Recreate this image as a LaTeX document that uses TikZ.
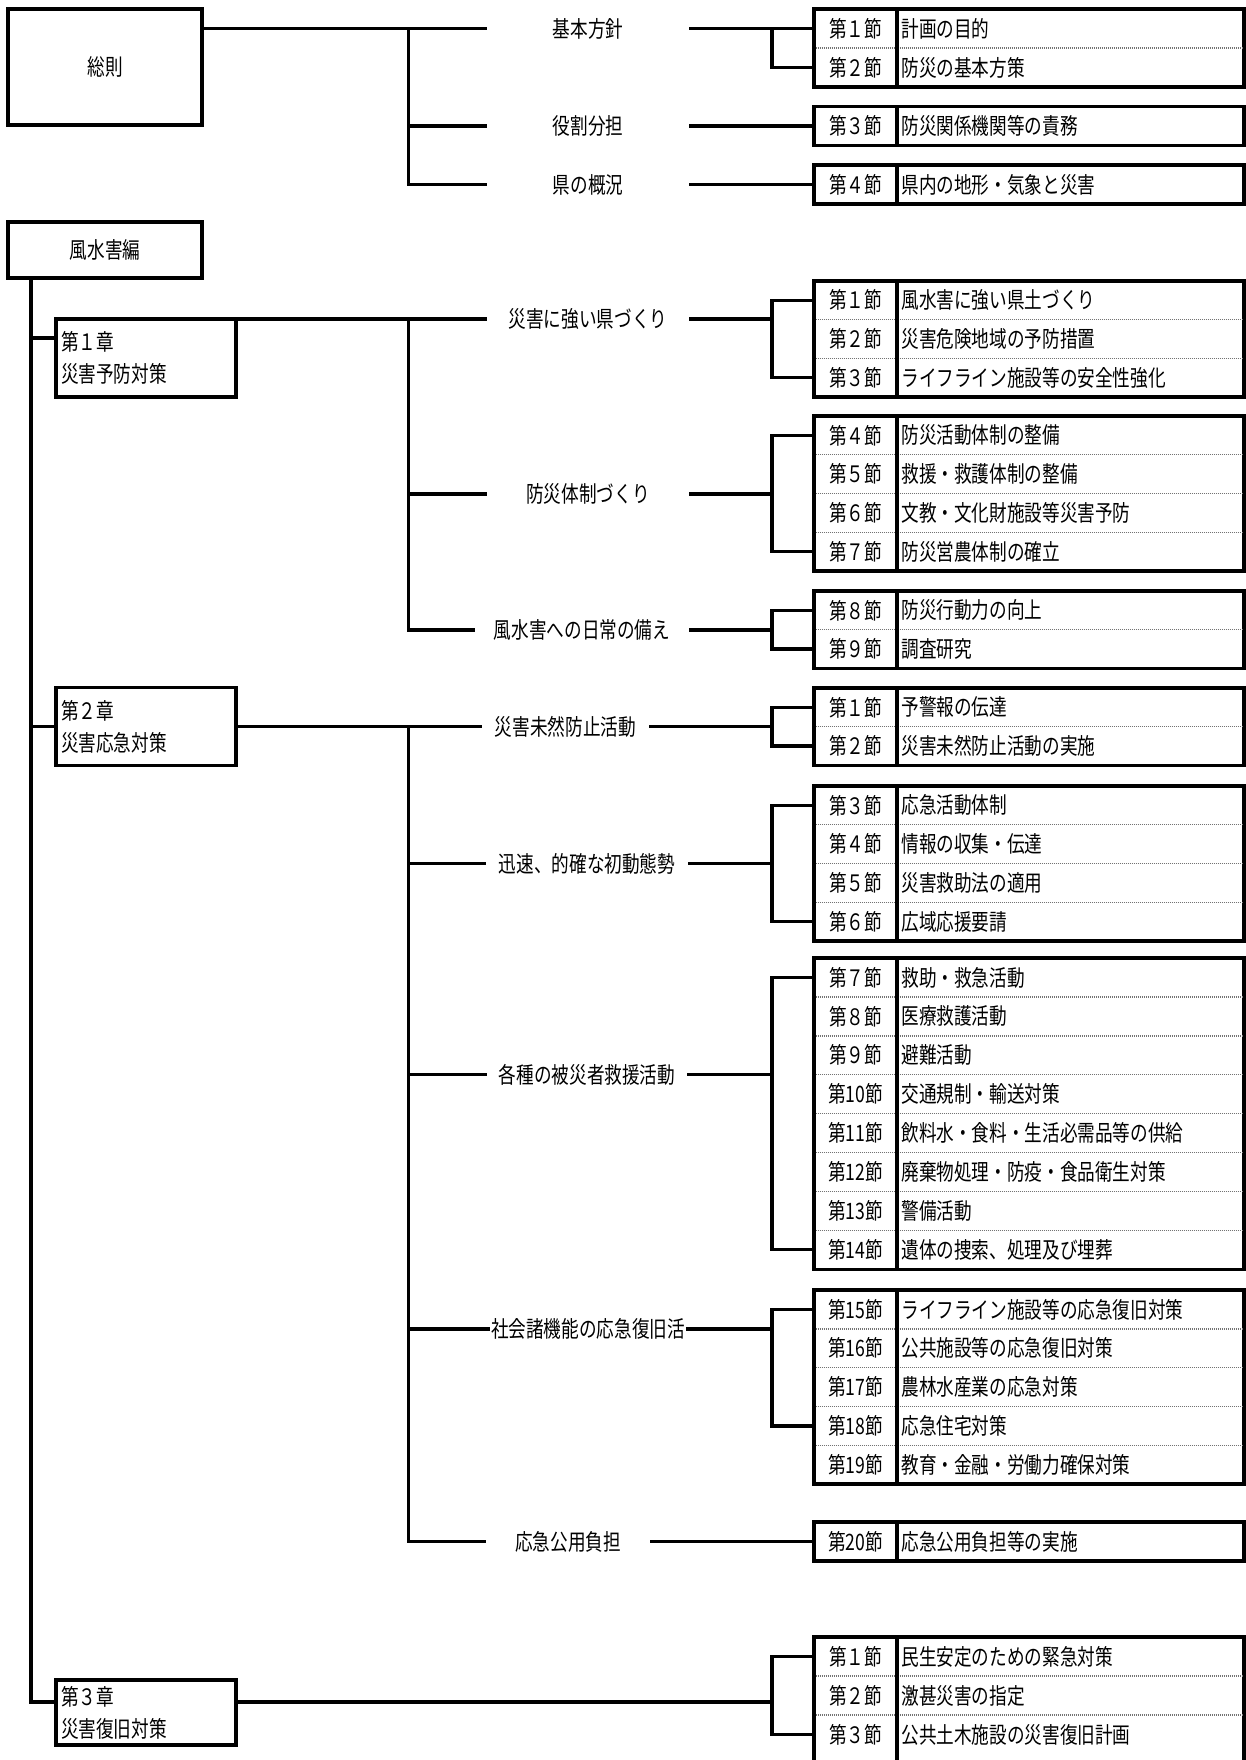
\documentclass[tikz,border=0pt]{standalone}
\usepackage{fontspec}
\setmainfont{Noto Sans CJK JP}[FakeStretch=0.78]
\newcommand{\SecGroup}[6]{%
  \draw[bx] (814,#2) rectangle (1244,#5);
  \foreach \SNum/\STit [count=\i] in {#6} {
    \node[numcell] (#1-\i) at (855.5,{#2+(\i-0.5)*#3}) {\SNum};
    \node[ttl] at (901,{#2+(\i-0.5)*#3}) {\STit};
  }
  \ifnum#4>1
    \foreach \k in {2,...,#4} \draw[dv] (815.5,{#2+(\k-1)*#3}) -- (1242.5,{#2+(\k-1)*#3});
  \fi
  \draw[bx] (897,#2) -- (897,#5);
}
\newcommand{\Brk}[3]{%
  \draw[ln] (#1.east) -- (#1.east -| bx);
  \draw[ln] (#2-1.west) -- (#2-1.west -| bx) -- (#2-#3.west -| bx) -- (#2-#3.west);
}
\begin{document}
\begin{tikzpicture}[x=0.5pt,y=-0.5pt,
  every node/.style={font=\fontsize{11.3}{16}\selectfont},
  ln/.style={line width=1.7pt},
  bx/.style={line width=1.7pt},
  dv/.style={draw=black!55, line width=0.7pt, dash pattern=on 0.6pt off 0.4pt},
  numcell/.style={minimum width=41.5pt, inner sep=0pt},
  ttl/.style={anchor=west, inner sep=0pt},
  lbl/.style={inner sep=0pt, minimum height=10pt},
  hbox/.style={draw, line width=1.7pt, inner sep=0pt, outer sep=0pt},
  chbox/.style={draw, line width=1.7pt, text width=85pt, align=left, inner xsep=2.5pt, inner ysep=0pt, outer sep=0pt}]
\useasboundingbox (0,0) rectangle (1246,1760);
\clip (0,0) rectangle (1246,1760);
\coordinate (vx) at (408.5,0);
\coordinate (bx) at (772,0);
\coordinate (tx) at (31,0);

% ---------- 総則 ----------
\node[hbox, minimum width=97pt, minimum height=58pt] (soso) at (105,67) {総則};
\node[lbl, minimum width=101pt] (kihon) at (588,28.5) {基本方針};
\node[lbl, minimum width=101pt] (yaku) at (588,126) {役割分担};
\node[lbl, minimum width=101pt] (ken) at (588,184.5) {県の概況};
\SecGroup{t1}{9}{39}{2}{87}{第１節/計画の目的, 第２節/防災の基本方策}
\SecGroup{t2}{106.5}{39}{1}{145.5}{第３節/防災関係機関等の責務}
\SecGroup{t3}{165}{39}{1}{204}{第４節/県内の地形・気象と災害}
\draw[ln] (soso.east |- kihon.west) -- (kihon.west);
\draw[ln] (kihon.west -| vx) -- (ken.west -| vx) -- (ken.west);
\draw[ln] (yaku.west -| vx) -- (yaku.west);
\Brk{kihon}{t1}{2}
\draw[ln] (yaku.east) -- (t2-1.west);
\draw[ln] (ken.east) -- (t3-1.west);

% ---------- 風水害編 ----------
\node[hbox, minimum width=97pt, minimum height=28pt] (fusui) at (105,250) {風水害編};
\node[chbox, minimum height=39pt] (ch1) at (146,358) {第１章\\災害予防対策};
\node[chbox, minimum height=39pt] (ch2) at (146,726.75) {第２章\\災害応急対策};
\node[chbox, minimum height=32.5pt] (ch3) at (146,1712.5) {第３章\\災害復旧対策};
\coordinate (j1) at (31,338);
\coordinate (j3) at (31,1702);
\draw[ln] (fusui.south -| tx) -- (j3) -- (j3 -| ch3.west);
\draw[ln] (j1) -- (j1 -| ch1.west);
\draw[ln] (ch2.west -| tx) -- (ch2.west);

% ---------- 第1章 ----------
\node[lbl, minimum width=101pt] (k1) at (588,319) {災害に強い県づくり};
\node[lbl, minimum width=101pt] (k2) at (588,494) {防災体制づくり};
\node[lbl, minimum width=107pt] (k3) at (582,630) {風水害への日常の備え};
\SecGroup{c1a}{281}{38.7}{3}{397}{第１節/風水害に強い県土づくり, 第２節/災害危険地域の予防措置, 第３節/ライフライン施設等の安全性強化}
\SecGroup{c1b}{416}{38.75}{4}{571}{第４節/防災活動体制の整備, 第５節/救援・救護体制の整備, 第６節/文教・文化財施設等災害予防, 第７節/防災営農体制の確立}
\SecGroup{c1c}{591}{38.75}{2}{668.5}{第８節/防災行動力の向上, 第９節/調査研究}
\draw[ln] (ch1.north west) -- (k1.west);
\draw[ln] (k1.west -| vx) -- (k3.west -| vx) -- (k3.west);
\draw[ln] (k2.west -| vx) -- (k2.west);
\Brk{k1}{c1a}{3}
\Brk{k2}{c1b}{4}
\Brk{k3}{c1c}{2}

% ---------- 第2章 ----------
\node[lbl, minimum width=83.5pt] (m1) at (565.5,726.75) {災害未然防止活動};
\node[lbl, minimum width=101pt] (m2) at (587,863.5) {迅速、的確な初動態勢};
\node[lbl, minimum width=100pt] (m3) at (587,1074.7) {各種の被災者救援活動};
\node[lbl, minimum width=98pt] (m4) at (588,1328.8) {社会諸機能の応急復旧活};
\node[lbl, minimum width=82pt] (m5) at (568,1541.5) {応急公用負担};
\SecGroup{c2a}{688}{38.75}{2}{765.5}{第１節/予警報の伝達, 第２節/災害未然防止活動の実施}
\SecGroup{c2b}{786}{38.75}{4}{941}{第３節/応急活動体制, 第４節/情報の収集・伝達, 第５節/災害救助法の適用, 第６節/広域応援要請}
\SecGroup{c2c}{958}{38.9}{8}{1269.2}{第７節/救助・救急活動, 第８節/医療救護活動, 第９節/避難活動, 第10節/交通規制・輸送対策, 第11節/飲料水・食料・生活必需品等の供給, 第12節/廃棄物処理・防疫・食品衛生対策, 第13節/警備活動, 第14節/遺体の捜索、処理及び埋葬}
\SecGroup{c2d}{1290}{38.8}{5}{1484}{第15節/ライフライン施設等の応急復旧対策, 第16節/公共施設等の応急復旧対策, 第17節/農林水産業の応急対策, 第18節/応急住宅対策, 第19節/教育・金融・労働力確保対策}
\SecGroup{c2e}{1522}{39}{1}{1561}{第20節/応急公用負担等の実施}
\draw[ln] (ch2.east) -- (m1.west);
\draw[ln] (m1.west -| vx) -- (m5.west -| vx) -- (m5.west);
\draw[ln] (m2.west -| vx) -- (m2.west);
\draw[ln] (m3.west -| vx) -- (m3.west);
\draw[ln] (m4.west -| vx) -- (m4.west);
\Brk{m1}{c2a}{2}
\Brk{m2}{c2b}{4}
\Brk{m3}{c2c}{8}
\Brk{m4}{c2d}{4}
\draw[ln] (m5.east) -- (c2e-1.west);

% ---------- 第3章 ----------
\SecGroup{c3}{1637}{39}{3}{1775}{第１節/民生安定のための緊急対策, 第２節/激甚災害の指定, 第３節/公共土木施設の災害復旧計画}
\draw[ln] (j3 -| ch3.east) -- (j3 -| bx);
\draw[ln] (c3-1.west) -- (c3-1.west -| bx) -- (c3-3.west -| bx) -- (c3-3.west);
\end{tikzpicture}
\end{document}
